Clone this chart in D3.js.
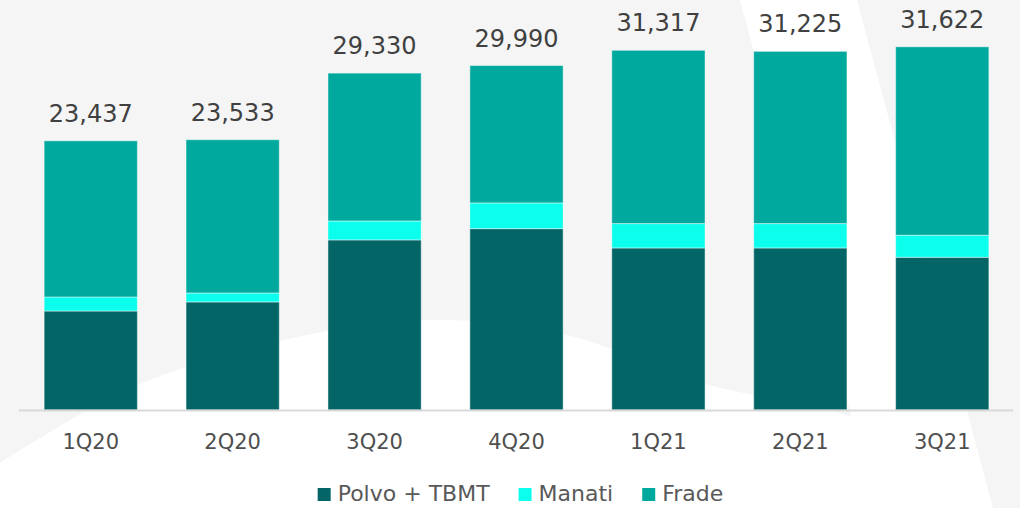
<!DOCTYPE html>
<html>
<head>
<meta charset="utf-8">
<script src="https://cdn.jsdelivr.net/npm/d3@7"></script>
<style>
  html, body { margin: 0; padding: 0; background: #f5f5f5; }
  svg { display: block; font-family: "DejaVu Sans", sans-serif; }
</style>
</head>
<body>
<div id="chart"></div>
<script>
const quarters = ["1Q20", "2Q20", "3Q20", "4Q20", "1Q21", "2Q21", "3Q21"];
const totals = [23437, 23533, 29330, 29990, 31317, 31225, 31622];
const polvo = [8620, 9410, 14810, 15790, 14110, 14110, 13300];
const manati = [1220, 780, 1650, 2240, 2120, 2120, 1920];
const frade = [13597, 13343, 12870, 11960, 15087, 14995, 16402];
const series_names = ["Polvo + TBMT", "Manati", "Frade"];
const series_colors = ["#036566", "#0bffec", "#00a99d"];

const width = 1020;
const height = 508;
const baseline = 410;

const svg = d3.select("#chart")
    .append("svg")
    .attr("width", width)
    .attr("height", height);

// background decoration
svg.append("rect").attr("width", width).attr("height", height).attr("fill", "#f5f5f5");
const blob = d3.line().curve(d3.curveCatmullRom);
svg.append("path")
    .attr("fill", "#ffffff")
    .attr("d", blob([[0, 463], [133, 387], [280, 341], [420, 320], [563, 334], [705, 384], [843, 414], [900, 440]]) +
        "L900,508L0,508Z");
svg.append("path")
    .attr("fill", "#ffffff")
    .attr("d", "M740,0L857,0L993,508L876,508Z");

const rows = quarters.map((q, i) => ({
    quarter: q,
    total: totals[i],
    "Polvo + TBMT": polvo[i],
    "Manati": manati[i],
    "Frade": frade[i]
}));

const x = d3.scaleBand()
    .domain(quarters)
    .range([20, 1013])
    .paddingInner(0.343)
    .paddingOuter(0.17);

const y = d3.scaleLinear()
    .domain([0, 35000])
    .range([baseline, 8]);

const color = d3.scaleOrdinal().domain(series_names).range(series_colors);

const stacked = d3.stack().keys(series_names)(rows);

svg.append("g")
    .selectAll("g")
    .data(stacked)
    .join("g")
    .attr("fill", d => color(d.key))
    .selectAll("rect")
    .data(d => d)
    .join("rect")
    .attr("x", d => x(d.data.quarter))
    .attr("width", x.bandwidth())
    .attr("y", d => y(d[1]))
    .attr("height", d => y(d[0]) - y(d[1]))
    .attr("stroke", "#ffffff")
    .attr("stroke-opacity", 0.45)
    .attr("stroke-width", 1);

// axis
const axis = svg.append("g")
    .attr("transform", `translate(0,${baseline})`)
    .call(d3.axisBottom(x).tickSize(0).tickPadding(39));
axis.select(".domain")
    .attr("d", "M19,0.5H1013")
    .attr("stroke", "#d9d9d9")
    .attr("stroke-width", 2);
axis.selectAll(".tick text")
    .attr("font-family", "DejaVu Sans")
    .attr("font-size", 21)
    .attr("fill", "#4f4f4f")
    .attr("dy", 0);

// total labels
svg.append("g")
    .selectAll("text")
    .data(rows)
    .join("text")
    .attr("x", d => x(d.quarter) + x.bandwidth() / 2)
    .attr("y", d => y(d.total) - 19)
    .attr("text-anchor", "middle")
    .attr("font-size", 24)
    .attr("fill", "#404040")
    .text(d => d3.format(",")(d.total));

// legend
const legend = svg.append("g").attr("transform", "translate(0,501)");
let cursor = 0;
const items = legend.selectAll("g")
    .data(series_names)
    .join("g");
items.append("rect")
    .attr("y", -13)
    .attr("width", 13)
    .attr("height", 13)
    .attr("fill", d => color(d));
items.append("text")
    .attr("x", 20)
    .attr("font-size", 22)
    .attr("fill", "#595959")
    .text(d => d);
items.each(function () {
    const g = d3.select(this);
    const w = g.select("text").node().getComputedTextLength();
    g.attr("transform", `translate(${cursor},0)`);
    cursor += 20 + w + 29;
});
const legend_width = cursor - 29;
legend.attr("transform", `translate(${520.5 - legend_width / 2},501)`);
</script>
</body>
</html>
